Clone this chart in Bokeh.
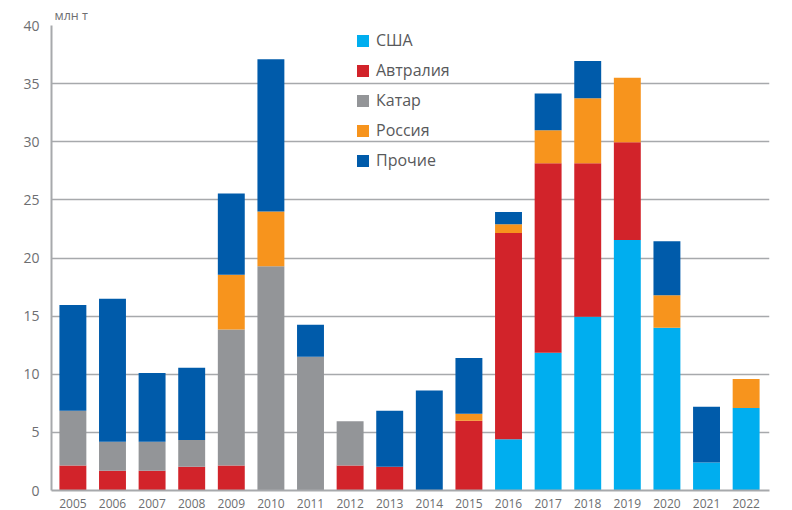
from bokeh.plotting import figure
from bokeh.models import Range1d, FixedTicker, ColumnDataSource
from bokeh.embed import file_html
from bokeh.resources import INLINE

years = list(range(2005, 2023))
usa =    [0, 0, 0, 0, 0, 0, 0, 0, 0, 0, 0, 4.4, 11.85, 14.95, 21.55, 14.0, 2.4, 7.1]
aus =    [2.15, 1.7, 1.7, 2.05, 2.15, 0, 0, 2.15, 2.05, 0, 6.0, 17.75, 16.3, 13.2, 8.4, 0, 0, 0]
qatar =  [4.7, 2.5, 2.5, 2.3, 11.7, 19.3, 11.5, 3.8, 0, 0, 0, 0, 0, 0, 0, 0, 0, 0]
russia = [0, 0, 0, 0, 4.7, 4.7, 0, 0, 0, 0, 0.6, 0.75, 2.85, 5.6, 5.55, 2.8, 0, 2.5]
other =  [9.1, 12.3, 5.9, 6.2, 7.0, 13.1, 2.75, 0, 4.8, 8.6, 4.8, 1.05, 3.15, 3.2, 0, 4.65, 4.8, 0]

series = ["США", "Автралия", "Катар", "Россия", "Прочие"]
colors = ["#00AEEF", "#D2232A", "#939598", "#F7941D", "#005BAA"]
y_ticks = [0, 5, 10, 15, 20, 25, 30, 35, 40]
unit_label = "млн т"

src = ColumnDataSource(dict(year=years, s0=usa, s1=aus, s2=qatar, s3=russia, s4=other))

FONT = "Open Sans"
TXT = "#6D6E71"
GRID = "#A7A9AC"

p = figure(width=792, height=510, output_backend="svg", toolbar_location=None,
           x_range=Range1d(2004.46, 2022.59), y_range=Range1d(0, 40),
           min_border_left=51, min_border_right=23, min_border_top=25, min_border_bottom=19,
           title=unit_label)
p.outline_line_color = None
p.background_fill_color = "white"

p.title.text_font = FONT
p.title.text_font_size = "12.5px"
p.title.text_font_style = "normal"
p.title.text_color = TXT
p.title.align = "left"
p.title.offset = 3
p.title.standoff = 3

rs = p.vbar_stack(["s0", "s1", "s2", "s3", "s4"], x="year", width=0.68, source=src,
                  color=colors, line_color=None, legend_label=series)

p.xgrid.visible = False
p.ygrid.ticker = FixedTicker(ticks=y_ticks)
p.ygrid.grid_line_color = GRID
p.ygrid.grid_line_width = 1.6

p.yaxis.ticker = FixedTicker(ticks=y_ticks)
p.xaxis.ticker = FixedTicker(ticks=years)
p.xaxis.major_label_overrides = {y: str(y) for y in years}
for ax in (p.xaxis, p.yaxis):
    ax.axis_line_color = GRID
    ax.axis_line_width = 2
    ax.major_tick_line_color = None
    ax.minor_tick_line_color = None
    ax.major_label_text_color = TXT
    ax.major_label_text_font = FONT
p.yaxis.major_label_text_font_size = "14px"
p.yaxis.major_label_standoff = 6
p.xaxis.major_label_text_font_size = "12px"
p.xaxis.major_label_standoff = 2

lg = p.legend[0]
lg.location = (304, 319)
lg.background_fill_alpha = 0
lg.border_line_color = None
lg.padding = 0
lg.margin = 0
lg.spacing = 8
lg.glyph_width = 15
lg.glyph_height = 15
lg.label_height = 15
lg.label_standoff = 6
lg.label_text_font = FONT
lg.label_text_font_size = "16px"
lg.label_text_color = "#58595B"

open("out.html", "w").write(file_html(p, INLINE))
